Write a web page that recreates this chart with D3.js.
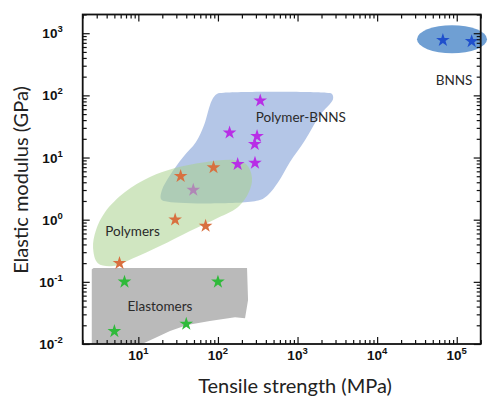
<!DOCTYPE html>
<html lang="en">
<head>
<meta charset="UTF-8" />
<title>Elastic modulus vs tensile strength</title>
<script src="https://d3js.org/d3.v7.min.js"></script>
<style>
body {
    margin: 0;
    padding: 0;
    background: #fff;
}
svg {
    display: block;
}
.tick-label {
    font-family: "Liberation Sans", Arial, sans-serif;
    font-weight: bold;
    font-size: 13.5px;
    fill: #111;
}
.axis-title {
    font-family: Lato, "Open Sans", sans-serif;
    font-size: 20px;
    fill: #222;
}
.region-label {
    font-family: Lato, "Open Sans", sans-serif;
    font-size: 13.5px;
    fill: #2a2a2a;
}
</style>
</head>
<body>
<svg width="488" height="398"></svg>

<script>
// stars: [tensile strength MPa, elastic modulus GPa]
const elastomers = [[5, 0.016], [6.7, 0.1], [100, 0.1], [40, 0.021]];
const polymers = [[5.8, 0.2], [29, 1.0], [70, 0.79], [34, 5.0], [88, 6.9]];
const polymerBnnsCovered = [[49, 3.0]];
const polymerBnns = [[340, 82], [140, 25], [310, 22], [290, 16.4], [177, 7.8], [292, 8.2]];
const bnns = [[67000, 770], [154000, 740]];

// shaded regions (outlines in data units)
const elastomerRegion = [
    [2.6, 0.16], [2.75, 0.167], [232, 0.167], [239, 0.051], [219, 0.026], [164, 0.027],
    [79, 0.0234], [41, 0.0202], [25, 0.0162], [16.2, 0.0125], [11.1, 0.01], [2.6, 0.01]
];
const polymerRegion = [
    [2.7, 0.35], [2.94, 0.68], [3.81, 1.32], [6.8, 2.78], [14, 4.84], [28.9, 6.76],
    [68.8, 8.43], [164, 9.08], [232, 7.55], [268, 4.67], [245, 2.78], [179, 1.6],
    [92, 1.02], [44.6, 0.66], [18.7, 0.377], [8.6, 0.24], [4.8, 0.18], [3.1, 0.2]
];
const polymerBnnsRegion = [
    [84, 83.7], [97, 105], [119, 110], [2280, 110], [2710, 105], [2790, 87],
    [1910, 48], [1240, 19], [800, 8.4], [570, 4.0], [425, 2.5], [320, 2.03],
    [23.6, 1.95], [19.3, 2.14], [19.8, 3.0], [25, 5.2], [36.4, 10.1], [53, 17.7], [66.8, 33]
];
const bnnsRegionX = [31700, 240000];
const bnnsRegionY = [476, 1346];

const regionLabels = [
    { text: "Polymers", x: 8.45, y: 0.63 },
    { text: "Elastomers", x: 18.7, y: 0.038 },
    { text: "Polymer-BNNS", x: 1100, y: 43 },
    { text: "BNNS", x: 92500, y: 169 }
];

const xDomain = [2, 200000];
const yDomain = [0.01, 2000];
const xMajor = [10, 100, 1000, 10000, 100000];
const xExponents = ["1", "2", "3", "4", "5"];
const yMajor = [0.01, 0.1, 1, 10, 100, 1000];
const yExponents = ["-2", "-1", "0", "1", "2", "3"];

const svg = d3.select("svg");
const margin = { top: 14.5, right: 7.3, bottom: 54, left: 82.7 };
const width = 488 - margin.left - margin.right;
const height = 398 - margin.top - margin.bottom;

const x = d3.scaleLog().domain(xDomain).range([0, width]);
const y = d3.scaleLog().domain(yDomain).range([height, 0]);

const g = svg.append("g")
    .attr("transform", `translate(${margin.left},${margin.top})`);

const area = d3.line()
    .x(d => x(d[0]))
    .y(d => y(d[1]));

// regions
g.append("path")
    .datum(elastomerRegion)
    .attr("d", area.curve(d3.curveLinearClosed))
    .attr("fill", "#bababa");

g.append("path")
    .datum(polymerBnnsRegion)
    .attr("d", area.curve(d3.curveCatmullRomClosed.alpha(0.5)))
    .attr("fill", "#b4c6e7");

const star = d3.symbol().type(d3.symbolStar).size(58);

function drawStars(data, color) {
    g.selectAll(null)
        .data(data)
        .enter()
        .append("path")
        .attr("d", star)
        .attr("transform", d => `translate(${x(d[0])},${y(d[1])})`)
        .attr("fill", color);
}

drawStars(polymerBnnsCovered, "#b82ee6");

g.append("path")
    .datum(polymerRegion)
    .attr("d", area.curve(d3.curveCatmullRomClosed.alpha(0.5)))
    .attr("fill", "#a9d18e")
    .attr("fill-opacity", 0.55);

g.append("ellipse")
    .attr("cx", (x(bnnsRegionX[0]) + x(bnnsRegionX[1])) / 2)
    .attr("cy", (y(bnnsRegionY[0]) + y(bnnsRegionY[1])) / 2)
    .attr("rx", (x(bnnsRegionX[1]) - x(bnnsRegionX[0])) / 2)
    .attr("ry", (y(bnnsRegionY[0]) - y(bnnsRegionY[1])) / 2)
    .attr("fill", "#6f9fd3");

drawStars(elastomers, "#2fba3a");
drawStars(polymers, "#d8703f");
drawStars(polymerBnns, "#b82ee6");
drawStars(bnns, "#1f4fcc");

g.selectAll(".region-label")
    .data(regionLabels)
    .enter()
    .append("text")
    .attr("class", "region-label")
    .attr("x", d => x(d.x))
    .attr("y", d => y(d.y))
    .attr("text-anchor", "middle")
    .attr("dominant-baseline", "middle")
    .text(d => d.text);

// axes, ticks pointing inward on all four sides
const xMinor = x.ticks().filter(v => !xMajor.includes(v));
const yMinor = y.ticks().filter(v => !yMajor.some(m => Math.abs(m - v) / m < 1e-6));

function frameAxis(axisFn, scale, values, size, transform) {
    g.append("g")
        .attr("transform", transform)
        .call(axisFn(scale).tickValues(values).tickSize(-size).tickFormat(""))
        .call(a => a.selectAll("line").attr("stroke", "#111").attr("stroke-width", 1.2))
        .call(a => a.select(".domain").remove());
}

frameAxis(d3.axisBottom, x, xMajor, 7, `translate(0,${height})`);
frameAxis(d3.axisBottom, x, xMinor, 4, `translate(0,${height})`);
frameAxis(d3.axisTop, x, xMajor, 7, "translate(0,0)");
frameAxis(d3.axisTop, x, xMinor, 4, "translate(0,0)");
frameAxis(d3.axisLeft, y, yMajor, 7, "translate(0,0)");
frameAxis(d3.axisLeft, y, yMinor, 4, "translate(0,0)");
frameAxis(d3.axisRight, y, yMajor, 7, `translate(${width},0)`);
frameAxis(d3.axisRight, y, yMinor, 4, `translate(${width},0)`);

g.append("rect")
    .attr("width", width)
    .attr("height", height)
    .attr("fill", "none")
    .attr("stroke", "#111")
    .attr("stroke-width", 1.8);

// tick labels: 10 with superscript exponent
const xLab = g.selectAll(".x-label")
    .data(xMajor)
    .enter()
    .append("text")
    .attr("class", "tick-label")
    .attr("x", d => x(d))
    .attr("y", height + 16)
    .attr("text-anchor", "middle");
xLab.append("tspan").text("10");
xLab.append("tspan")
    .attr("dy", -6)
    .attr("font-size", "9.5px")
    .text((d, i) => xExponents[i]);

const yLab = g.selectAll(".y-label")
    .data(yMajor)
    .enter()
    .append("text")
    .attr("class", "tick-label")
    .attr("x", -20)
    .attr("y", d => y(d) + 5)
    .attr("text-anchor", "end");
yLab.append("tspan").text("10");
yLab.append("tspan")
    .attr("dy", -6)
    .attr("font-size", "9.5px")
    .text((d, i) => yExponents[i]);

svg.append("text")
    .attr("class", "axis-title")
    .attr("x", 295)
    .attr("y", 393)
    .attr("text-anchor", "middle")
    .text("Tensile strength (MPa)");

svg.append("text")
    .attr("class", "axis-title")
    .attr("transform", "translate(28,180) rotate(-90)")
    .attr("text-anchor", "middle")
    .text("Elastic modulus (GPa)");
</script>
</body>
</html>
